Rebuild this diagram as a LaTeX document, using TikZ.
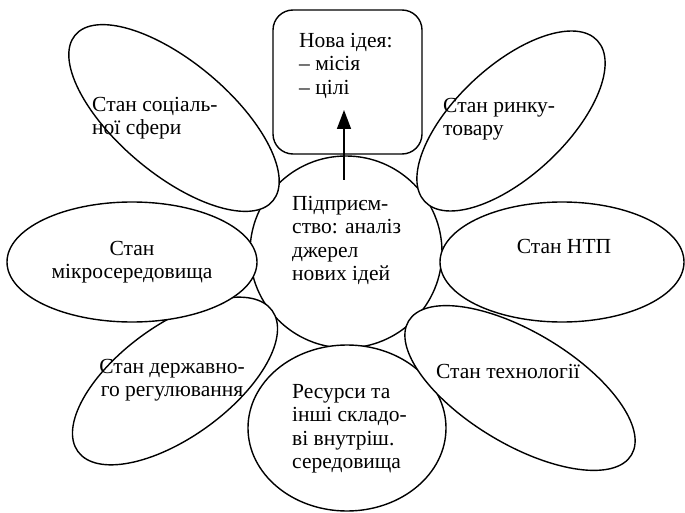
\documentclass[tikz,border=0pt]{standalone}
\usepackage{fontspec}
\setmainfont{Liberation Serif}
\usetikzlibrary{shapes.geometric,arrows.meta}
\begin{document}
\begin{tikzpicture}[x=1pt,y=-1pt,
  outline/.style={draw, fill=white, line width=1.4pt, inner sep=0pt},
  petal/.style={outline, ellipse},
  lbl/.style={inner sep=0pt, font=\fontsize{21.5}{23.5}\selectfont},
  lblL/.style={lbl, align=left, anchor=north west},
  lblC/.style={lbl, align=center, anchor=north},
  flow/.style={line width=1.5pt, -{Triangle[length=19pt,width=14pt]}}]
\useasboundingbox (0,0) rectangle (685,513);
\fill[white] (0,0) rectangle (685,513);

% centre of the flower and the bottom petal
\node[outline, circle, minimum size=192pt] (firm) at (346,252) {};
\node[petal, minimum width=198pt, minimum height=166pt] (res) at (347,428) {};

% side petals
\node[petal, minimum width=240pt, minimum height=112pt, rotate=36] (gov) at (175,381) {};
\node[petal, minimum width=250pt, minimum height=120pt] (micro) at (132,262) {};
\node[petal, minimum width=258pt, minimum height=112pt, rotate=-40] (soc) at (174,118) {};
\node[petal, minimum width=236pt, minimum height=110pt, rotate=43] (market) at (511,121) {};
\node[petal, minimum width=260pt, minimum height=112pt, rotate=-31] (tech) at (520,388) {};
\node[petal, minimum width=244pt, minimum height=120pt] (ntp) at (562,262) {};

% the new idea
\node[outline, rounded corners=20pt, minimum width=149pt, minimum height=144pt] (idea) at (347.5,82) {};

% arrow from the enterprise to the idea
\coordinate (arrS) at (344,180);
\coordinate (arrE) at (344,110);
\draw[flow] (arrS) -- (arrE);

% labels (y of each node = first baseline minus the strut height)
\node[lblL] (tIdea) at (299,30.5) {\strut Нова ідея:\\– місія\\– цілі};
\node[lblL] (tFirm) at (292,193.5) {\strut Підприєм-\\ство: аналіз\\джерел\\нових ідей};
\node[lblL] (tSoc) at (92,94.5) {\strut Стан соціаль-\\ної сфери};
\node[lblL] (tMarket) at (443,95.5) {\strut Стан ринку-\\товару};
\node[lblC] (tMicro) at (132,238.5) {\strut Стан\\мікросередовища};
\node[lblC] (tNtp) at (564,236.5) {\strut Стан НТП};
\node[lblC] (tGov) at (172,356.5) {\strut Стан державно-\\го регулювання};
\node[lblC] (tTech) at (508,361.5) {\strut Стан технології};
\node[lblL] (tRes) at (292,381.5) {\strut Ресурси та\\інші складо-\\ві внутріш.\\середовища};
\end{tikzpicture}
\end{document}
